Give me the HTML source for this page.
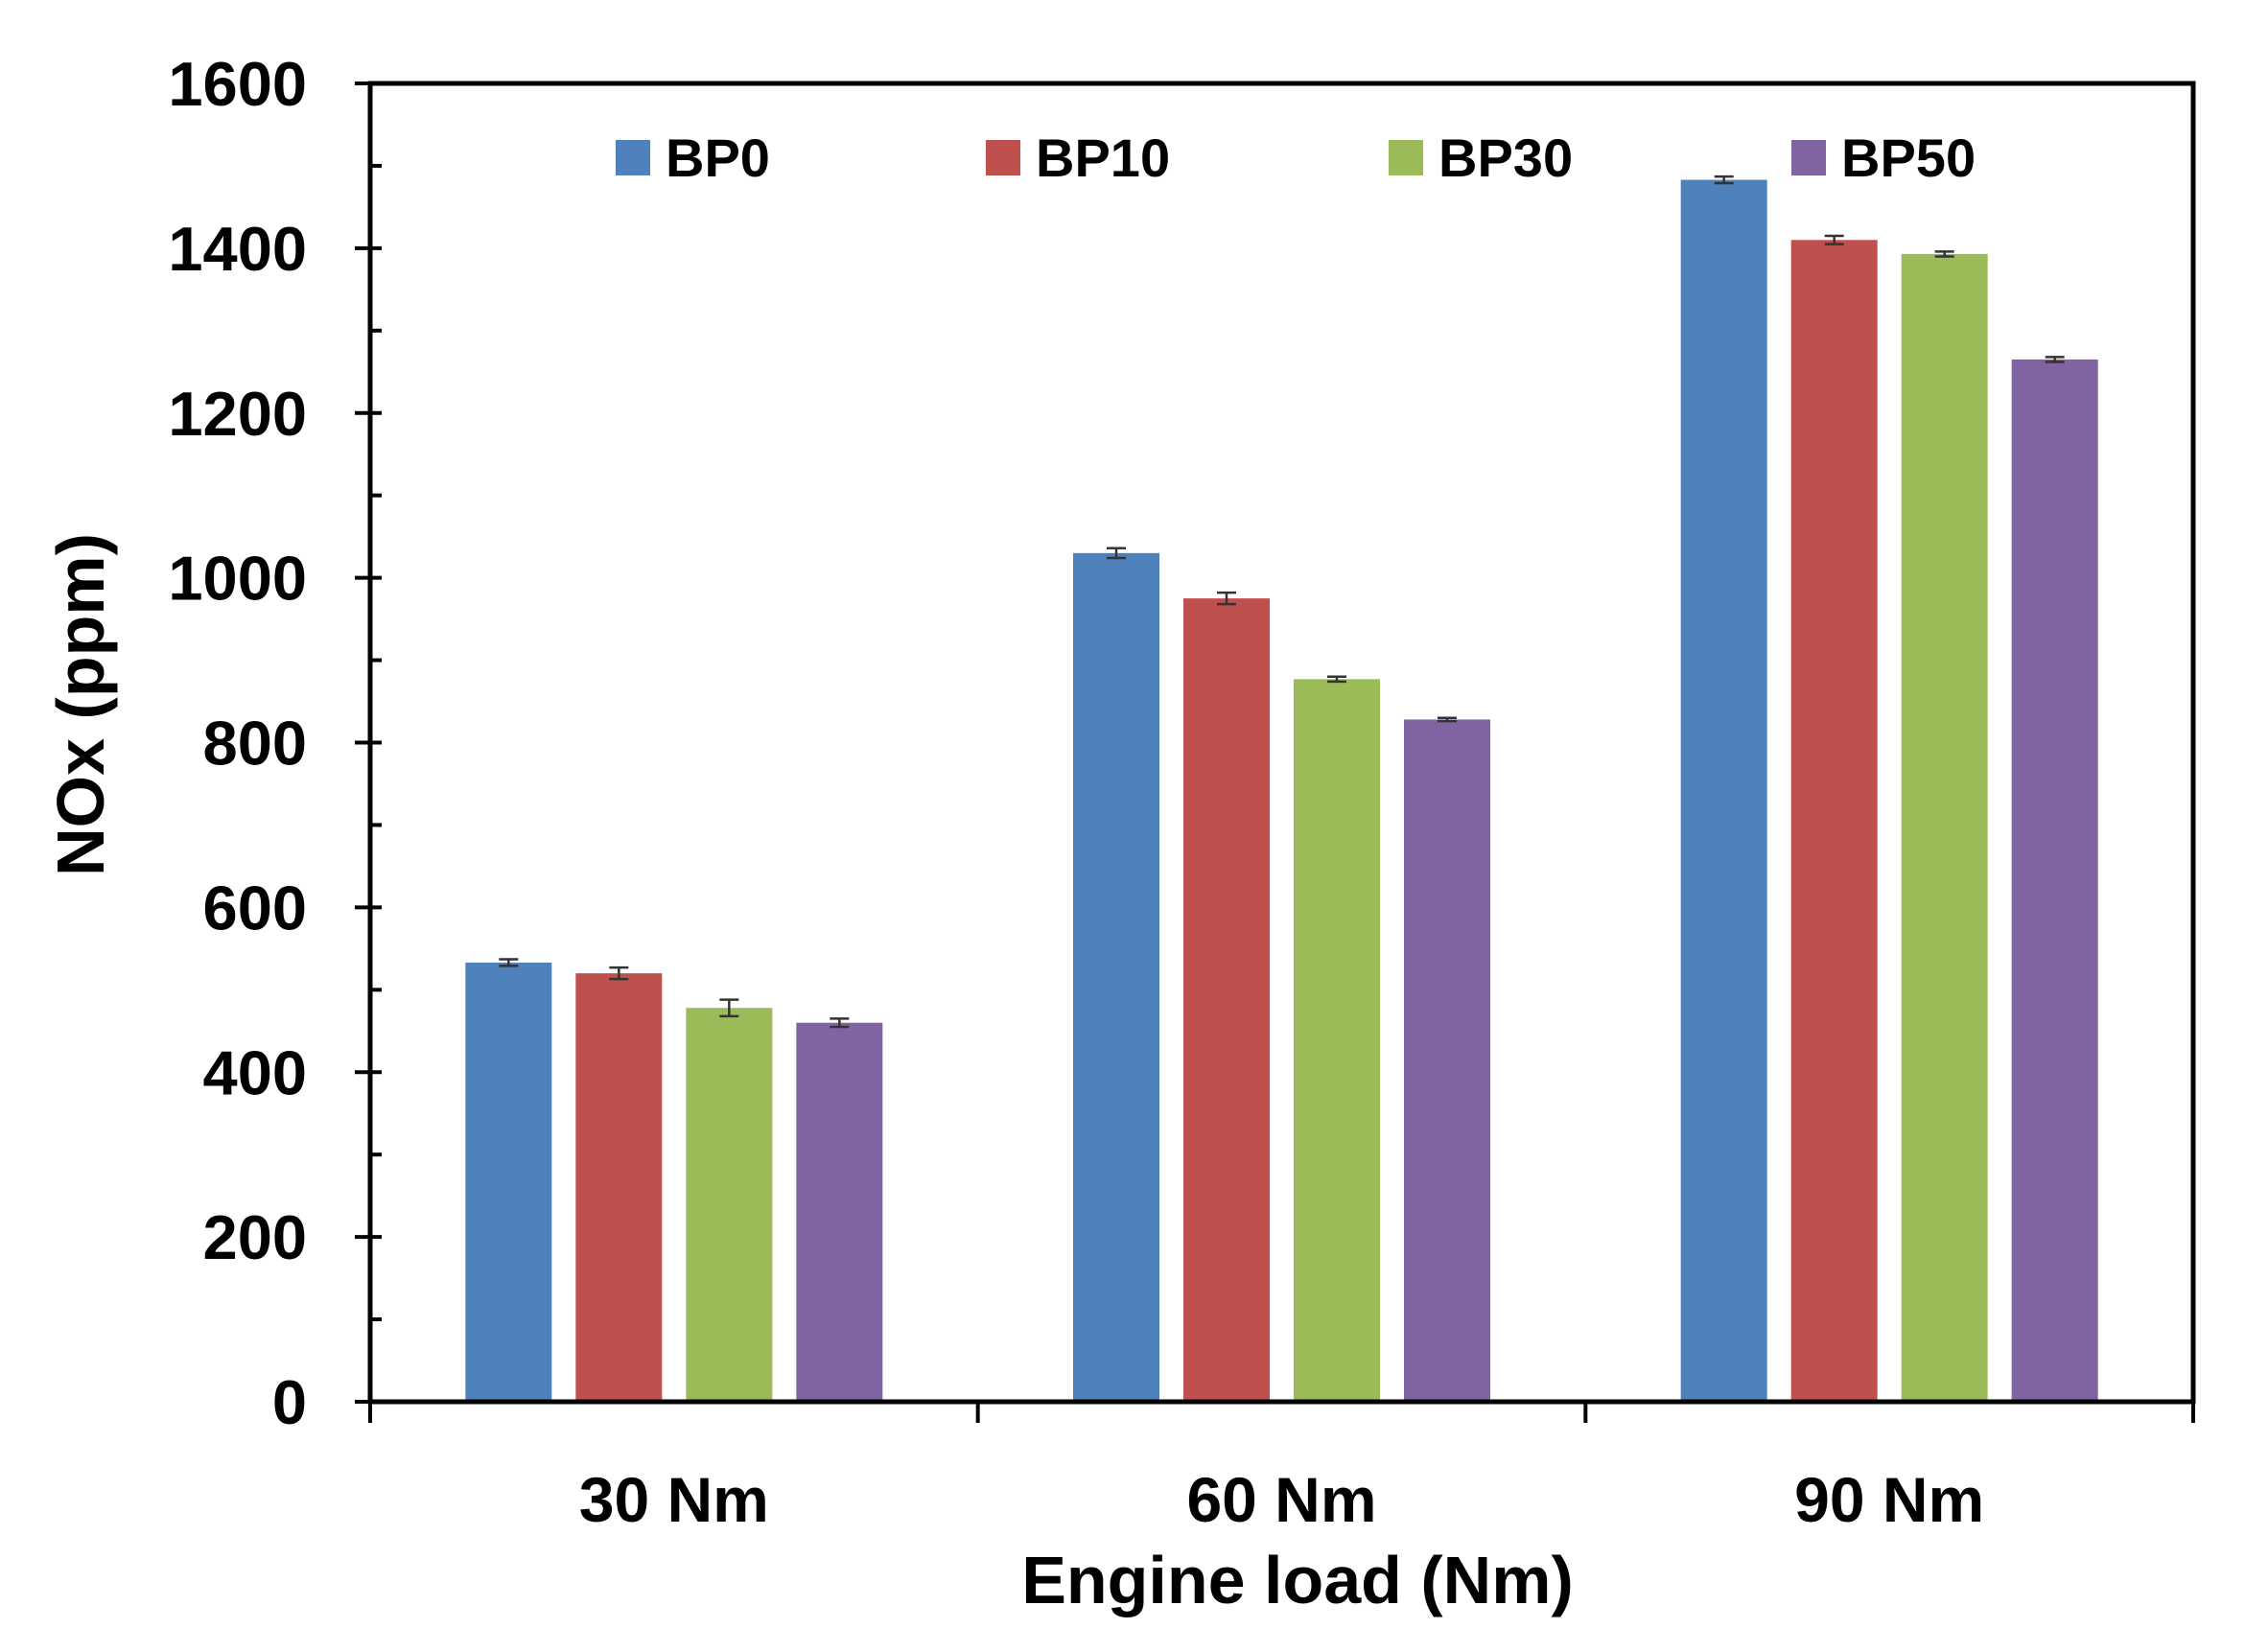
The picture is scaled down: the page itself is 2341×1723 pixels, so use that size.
<!DOCTYPE html>
<html><head><meta charset="utf-8"><style>
html,body{margin:0;padding:0;background:#fff;}
svg{display:block;font-family:"Liberation Sans",sans-serif;font-weight:bold;}
</style></head><body>
<svg id="chart" width="2341" height="1723" viewBox="0 0 2341 1723"></svg>
<script>
const categories = ["30 Nm","60 Nm","90 Nm"];
const seriesNames = ["BP0","BP10","BP30","BP50"];
const seriesColors = ["#4F81BD","#C0504D","#9BBB59","#8064A2"];
const bp0 = [533,1030,1483];
const bp10 = [520,975,1410];
const bp30 = [478,877,1393];
const bp50 = [460,828,1265];
const err0 = [4,6,4];
const err10 = [7,7,5];
const err30 = [10,3,3];
const err50 = [5,2,3];
const yTicks = [0,200,400,600,800,1000,1200,1400,1600];
const yMinor = [100,300,500,700,900,1100,1300,1500];

const series=[bp0,bp10,bp30,bp50], errs=[err0,err10,err30,err50];
const svg=document.getElementById('chart');
const NS='http://www.w3.org/2000/svg';
const L=386,R=2287,T=87,B=1462,yMax=1600;
const y=v=>B-(v/yMax)*(B-T);
const catW=(R-L)/categories.length;
const x=(c,s)=>L+catW*(c+0.5)+(s-1.5)*115;
function mk(tag,attrs,parent){const e=document.createElementNS(NS,tag);for(const k in attrs)e.setAttribute(k,attrs[k]);(parent||svg).appendChild(e);return e;}

series.forEach((vals,s)=>{vals.forEach((v,c)=>{
  const cx=x(c,s);
  const r=mk('rect',{x:cx-45,y:y(v),width:90,height:B-y(v),fill:seriesColors[s]});
  
  
  const e=errs[s][c];
  const g=mk('g',{stroke:'#333','stroke-width':2.5});
  
  
  mk('line',{x1:cx,x2:cx,y1:y(v+e),y2:y(v-e)},g);
  mk('line',{x1:cx-10,x2:cx+10,y1:y(v+e),y2:y(v+e)},g);
  mk('line',{x1:cx-10,x2:cx+10,y1:y(v-e),y2:y(v-e)},g);
});});

const fr=mk('rect',{x:L,y:T,width:R-L,height:B-T,fill:'none',stroke:'#000','stroke-width':5});



yTicks.forEach(v=>{
  mk('line',{x1:L-16,x2:L+12,y1:y(v),y2:y(v),stroke:'#000','stroke-width':4});
  const t=mk('text',{x:320,y:y(v)+23,'text-anchor':'end','font-size':65});
  t.textContent=v;
  
  
});
yMinor.forEach(v=>{mk('line',{x1:L,x2:L+12,y1:y(v),y2:y(v),stroke:'#000','stroke-width':4});});

for(let i=0;i<=categories.length;i++){mk('line',{x1:L+catW*i,x2:L+catW*i,y1:B,y2:B+22,stroke:'#000','stroke-width':4});}
categories.forEach((c,i)=>{
  const t=mk('text',{x:L+catW*(i+0.5),y:1587,'text-anchor':'middle','font-size':66});
  t.textContent=c;
  
  
});

const xt=mk('text',{x:1353,y:1672,'text-anchor':'middle','font-size':70});
xt.textContent='Engine load (Nm)';


const yt=mk('text',{x:0,y:0,'text-anchor':'middle','font-size':70,transform:'translate(108,735) rotate(-90)'});
yt.textContent='NOx (ppm)';



const legX=[642,1028,1448,1868];
seriesNames.forEach((n,s)=>{
  const g=mk('g',{});
  
  
  mk('rect',{x:legX[s],y:146,width:36,height:37,fill:seriesColors[s]},g);
  const t=mk('text',{x:legX[s]+52,y:184,'font-size':56},g);
  t.textContent=n;
});
</script>
</body></html>
